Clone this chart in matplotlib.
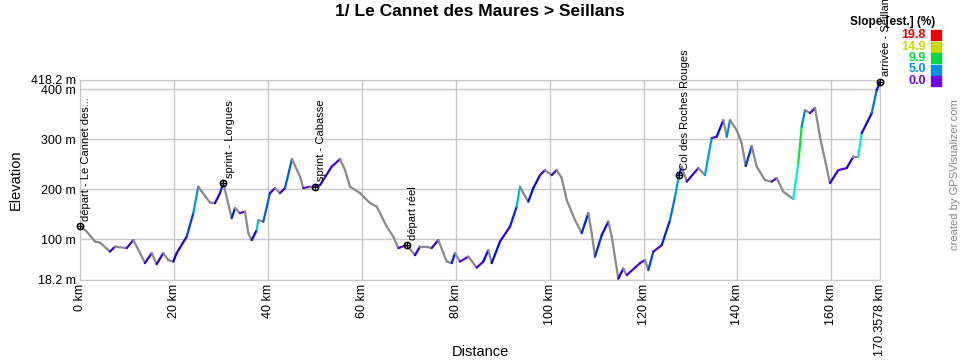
import matplotlib
matplotlib.use("Agg")
import matplotlib.pyplot as plt
import numpy as np
from matplotlib.collections import LineCollection
from matplotlib.colors import ListedColormap, hsv_to_rgb

plt.rcParams["font.family"] = ["Liberation Sans", "DejaVu Sans"]

# profile (km, m)
dist_km = [0.0, 1.43, 3.19, 4.26, 6.39, 7.45, 9.94, 11.35, 12.78, 13.84, 15.27, 16.33,
           17.74, 18.80, 19.87, 20.59, 22.72, 24.13, 25.19, 25.92, 27.69, 28.75, 29.81,
           30.52, 32.30, 33.01, 34.07, 35.14, 35.84, 36.56, 37.63, 37.97, 39.03, 40.46,
           41.52, 42.59, 43.65, 45.14, 46.85, 47.55, 48.98, 50.04, 51.11, 53.60, 55.38,
           56.43, 57.50, 59.63, 61.76, 63.18, 65.31, 66.72, 67.78, 69.57, 71.34, 72.40,
           73.83, 74.89, 76.30, 78.09, 79.15, 79.85, 80.92, 82.69, 84.48, 85.88, 86.95,
           87.67, 89.43, 91.57, 92.99, 93.70, 94.40, 95.47, 96.53, 97.96, 99.02, 100.45,
           101.51, 102.58, 103.64, 105.41, 106.84, 108.24, 108.97, 109.67, 111.10, 112.50,
           113.23, 114.63, 115.70, 116.42, 119.26, 120.32, 121.02, 122.09, 123.88, 125.64,
           126.71, 127.56, 128.13, 129.20, 131.67, 133.09, 133.80, 134.52, 135.59, 136.99,
           137.72, 138.42, 139.84, 140.91, 141.76, 143.04, 144.10, 145.87, 147.30, 148.36,
           149.76, 151.89, 152.96, 153.68, 154.39, 155.45, 156.52, 157.58, 158.65, 159.71,
           161.48, 163.27, 164.68, 165.74, 166.46, 167.17, 168.60, 169.66, 170.3578]
elev_m = [126, 115, 95, 93, 75, 85, 82, 98, 72, 52, 72, 50,
          72, 58, 55, 72, 105, 152, 205, 195, 173, 172, 192,
          212, 142, 162, 152, 155, 112, 98, 118, 138, 135, 192,
          202, 192, 202, 260, 225, 202, 205, 205, 208, 245, 260,
          238, 205, 192, 172, 165, 125, 105, 82, 88, 68, 85,
          85, 82, 98, 55, 52, 72, 55, 65, 43, 55, 78,
          52, 95, 125, 165, 205, 192, 175, 202, 228, 238, 228,
          238, 222, 178, 138, 112, 152, 112, 65, 108, 135,
          105, 21, 41, 28, 52, 58, 38, 75, 88, 138,
          185, 228, 245, 215, 242, 228, 265, 302, 305, 338,
          305, 338, 318, 292, 246, 286, 245, 218, 215, 222,
          195, 180, 252, 325, 358, 352, 362, 305, 258, 212,
          238, 242, 265, 265, 312, 325, 352, 398, 415]

wp_names = ["départ - Le Cannet des...", "sprint - Lorgues", "sprint - Cabasse",
            "départ réel", "Col des Roches Rouges", "arrivée - Seillans"]
wp_km = [0.0, 30.52, 50.04, 69.57, 127.56, 170.3578]
wp_elev = [126, 212, 205, 88, 228, 415]

x_ticks = [0, 20, 40, 60, 80, 100, 120, 140, 160, 170.3578]
x_labels = ["0 km", "20 km", "40 km", "60 km", "80 km", "100 km", "120 km",
            "140 km", "160 km", "170.3578 km"]
y_ticks = [18.2, 100, 200, 300, 400, 418.2]
y_labels = ["18.2 m", "100 m", "200 m", "300 m", "400 m", "418.2 m"]

legend_vals = [19.8, 14.9, 9.9, 5.0, 0.0]
legend_cols = ["#ee0000", "#c8dc00", "#00dd44", "#0090e8", "#7000ee"]

# slope colours run along the hue wheel: violet at 0 % -> red at 19.8 %
hues = np.linspace(270, 0, 256) / 360
slope_cmap = ListedColormap(hsv_to_rgb(np.column_stack([hues, np.ones(256),
                                                        np.full(256, 0.93)])))

fig = plt.figure(figsize=(9.6, 3.6), dpi=100)
ax = fig.add_axes([80 / 960, 80 / 360, 800 / 960, 200 / 360])

x = np.array(dist_km)
y = np.array(elev_m)
segs = np.stack([np.column_stack([x[:-1], y[:-1]]), np.column_stack([x[1:], y[1:]])], axis=1)
slope = np.diff(y) / (np.diff(x) * 1000) * 100
cols = [slope_cmap(min(s, 19.8) / 19.8) if s > 0 else "#8a8a8a" for s in slope]
ax.add_collection(LineCollection(segs, colors=cols, linewidths=1.6, capstyle="round"))

for name, k, e in zip(wp_names, wp_km, wp_elev):
    ax.plot(k, e, "o", ms=4.5, mfc="none", mec="black", mew=1.1, clip_on=False, zorder=5)
    ax.plot(k, e, "+", ms=4.5, mec="black", mew=0.8, clip_on=False, zorder=5)
    ax.annotate(name, (k, e), xytext=(4.5, 4), textcoords="offset points",
                rotation=90, ha="center", va="bottom", fontsize=8, annotation_clip=False)

ax.set_xlim(0, 170.3578)
ax.set_ylim(18.2, 418.2)
ax.set_xticks(x_ticks)
ax.set_xticklabels(x_labels, rotation=90, fontsize=9)
ax.set_yticks(y_ticks)
ax.set_yticklabels(y_labels, fontsize=9)
ax.tick_params(length=0, pad=3)
ax.grid(color="#c8c8c8", lw=1)
ax.set_axisbelow(True)
for sp in ax.spines.values():
    sp.set_color("#c8c8c8")
ax.set_ylabel("Elevation", fontsize=10.5, labelpad=6)

fig.text(480 / 960, 1 - 352 / 360, "Distance", ha="center", va="center", fontsize=10.5)
fig.text(480 / 960, 1 - 12 / 360, "1/ Le Cannet des Maures > Seillans",
         ha="center", va="center", fontsize=12.5, fontweight="bold")

# slope legend
fig.text(893 / 960, 1 - 22 / 360, "Slope [est.] (%)", ha="center", va="center",
         fontsize=8.5, fontweight="bold")
for i, (v, c) in enumerate(zip(legend_vals, legend_cols)):
    yy = 1 - (35 + i * 11.5) / 360
    fig.text(926 / 960, yy, f"{v:.1f}", ha="right", va="center", fontsize=9,
             fontweight="bold", color=c)
    fig.patches.append(plt.Rectangle((931 / 960, yy - 5 / 360), 10 / 960, 10 / 360,
                                     transform=fig.transFigure, color=c))

fig.text(955 / 960, 1 - 175 / 360, "created by GPSVisualizer.com", rotation=90,
         ha="center", va="center", fontsize=8, color="#888888")

fig.savefig("out.png", dpi=100)
